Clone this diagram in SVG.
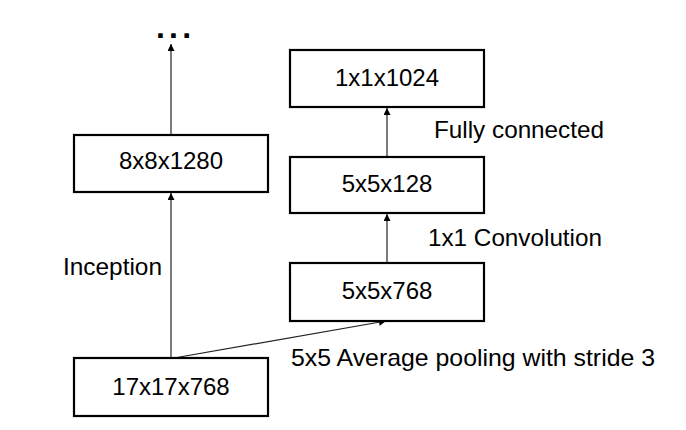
<svg xmlns="http://www.w3.org/2000/svg" width="686" height="430" viewBox="0 0 686 430">
<defs>
<marker id="ah" viewBox="0 0 10 10" refX="10" refY="5" markerWidth="8" markerHeight="7" markerUnits="userSpaceOnUse" orient="auto">
<path d="M0,0 L10,5 L0,10 z" fill="#000"/>
</marker>
<style>
.box{fill:#fff;stroke:#000;stroke-width:2.2}
.t{font-family:"Liberation Sans",Arial,sans-serif;font-size:24px;fill:#000}
.c{text-anchor:middle}
.e{stroke:#222;stroke-width:1.2;fill:none;marker-end:url(#ah)}
</style>
</defs>
<rect width="686" height="430" fill="#fff"/>
<g id="connectors">
<line class="e" x1="171" y1="135" x2="171" y2="44"/>
<line class="e" x1="171" y1="358" x2="171" y2="193"/>
<line class="e" x1="174" y1="358" x2="386" y2="321"/>
<line class="e" x1="387" y1="263" x2="387" y2="214"/>
<line class="e" x1="387" y1="157" x2="387" y2="108"/>
</g>
<g id="dots"><text x="156" y="38" font-family="Liberation Sans,Arial,sans-serif" font-weight="bold" font-size="32" letter-spacing="4.2" fill="#000">...</text></g>
<g id="n8x8x1280"><rect class="box" x="74" y="135" width="194" height="57"/><text class="t c" x="171" y="169">8x8x1280</text></g>
<g id="n17x17x768"><rect class="box" x="74" y="358" width="194" height="58"/><text class="t c" x="171" y="395">17x17x768</text></g>
<g id="n1x1x1024"><rect class="box" x="290" y="50" width="194" height="57"/><text class="t c" x="387" y="86">1x1x1024</text></g>
<g id="n5x5x128"><rect class="box" x="290" y="157" width="194" height="56"/><text class="t c" x="387" y="192">5x5x128</text></g>
<g id="n5x5x768"><rect class="box" x="290" y="263" width="194" height="58"/><text class="t c" x="387" y="299">5x5x768</text></g>
<g id="labels">
<text class="t" x="63" y="275" textLength="99" lengthAdjust="spacingAndGlyphs">Inception</text>
<text class="t" x="434" y="138" textLength="170" lengthAdjust="spacingAndGlyphs">Fully connected</text>
<text class="t" x="428" y="246" textLength="174" lengthAdjust="spacingAndGlyphs">1x1 Convolution</text>
<text class="t" x="291" y="366" textLength="364" lengthAdjust="spacingAndGlyphs">5x5 Average pooling with stride 3</text>
</g>
</svg>
